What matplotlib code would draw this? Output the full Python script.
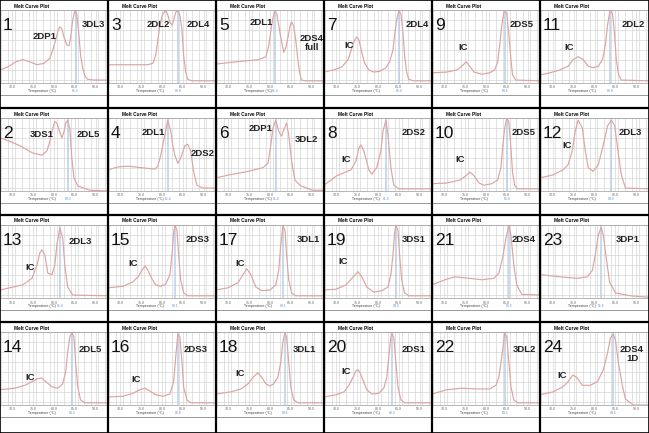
import numpy as np
import matplotlib.pyplot as plt
from matplotlib.lines import Line2D

plt.rcParams['font.family'] = ['Liberation Sans', 'DejaVu Sans']

# panel order in the grid (4 rows x 6 columns)
panel_ids = [1, 3, 5, 7, 9, 11,
             2, 4, 6, 8, 10, 12,
             13, 15, 17, 19, 21, 23,
             14, 16, 18, 20, 22, 24]

# melt curves: temperature (degC) and -dF/dT (scaled 0-100)
t1 = [67.0, 68.9, 70.8, 72.5, 74.2, 75.9, 77.6, 79.0, 79.7, 80.4, 80.9, 81.4, 81.9, 82.4, 83.1, 83.6, 84.0, 84.5, 85.0, 85.5, 86.0, 86.4, 86.9, 87.4, 88.1, 89.8, 93.0]
d1 = [18, 22, 29, 32, 29, 25, 27, 34, 45, 59, 70, 77, 74, 63, 52, 51, 62, 86, 99, 93, 66, 38, 21, 10, 5, 4, 4]
t3 = [67.0, 71.8, 76.6, 77.8, 78.5, 79.0, 79.5, 80.2, 80.9, 81.4, 81.9, 82.4, 82.8, 83.3, 83.8, 84.3, 84.8, 85.2, 85.7, 86.2, 87.2, 93.0]
d3 = [25, 25, 25, 27, 38, 59, 79, 95, 99, 93, 84, 79, 86, 97, 99, 93, 73, 38, 15, 5, 3, 3]
t5 = [67.0, 71.8, 77.3, 79.0, 79.7, 80.2, 80.7, 81.2, 81.6, 82.1, 82.6, 83.1, 83.3, 83.8, 84.3, 84.8, 85.2, 85.7, 86.2, 86.7, 87.2, 87.6, 88.6, 93.0]
d5 = [26, 29, 32, 36, 51, 71, 89, 99, 95, 79, 62, 48, 42, 48, 62, 77, 84, 78, 59, 32, 12, 4, 3, 3]
t7 = [67.0, 69.4, 71.3, 72.8, 73.7, 74.4, 74.9, 75.4, 76.1, 76.8, 77.8, 79.0, 80.4, 81.9, 82.8, 83.6, 84.0, 84.5, 85.0, 85.5, 86.0, 86.4, 86.9, 87.4, 88.6, 93.0]
d7 = [15, 18, 22, 32, 48, 59, 63, 59, 42, 27, 18, 15, 16, 21, 29, 45, 66, 86, 99, 95, 70, 38, 15, 5, 3, 3]
t9 = [67.0, 70.6, 73.0, 74.2, 75.2, 76.1, 77.1, 79.0, 80.9, 82.1, 82.8, 83.3, 83.8, 84.3, 84.5, 85.0, 85.5, 86.0, 86.4, 87.2, 93.0]
d9 = [14, 15, 18, 23, 29, 23, 15, 12, 14, 18, 29, 52, 79, 97, 100, 95, 66, 32, 11, 4, 3]
t11 = [67.0, 69.4, 71.8, 73.7, 74.9, 76.1, 77.3, 78.5, 79.7, 80.9, 81.9, 82.6, 83.1, 83.6, 83.8, 84.3, 84.8, 85.2, 85.7, 86.4, 93.0]
d11 = [11, 14, 18, 23, 32, 36, 32, 23, 21, 23, 32, 52, 79, 96, 100, 95, 66, 32, 12, 4, 3]

t2 = [67.0, 69.4, 71.8, 74.9, 77.1, 78.3, 79.0, 79.7, 80.2, 80.7, 81.2, 81.9, 82.4, 82.8, 83.3, 83.8, 84.3, 84.8, 85.7, 88.6, 93.0]
d2 = [73, 68, 62, 52, 49, 55, 68, 86, 95, 93, 84, 73, 81, 93, 97, 86, 45, 18, 7, 1, 0]
t4 = [67.0, 69.4, 71.8, 74.9, 78.3, 79.0, 79.7, 80.7, 81.4, 82.1, 82.6, 83.1, 83.8, 84.5, 85.5, 86.2, 86.9, 87.6, 88.4, 89.8, 93.0]
d4 = [29, 33, 34, 32, 30, 34, 49, 77, 97, 82, 62, 49, 38, 45, 62, 64, 55, 27, 8, 4, 4]
t6 = [67.0, 70.1, 74.9, 78.3, 79.5, 80.2, 80.7, 81.4, 82.1, 82.8, 83.3, 84.0, 84.5, 85.2, 86.0, 87.4, 90.3, 93.0]
d6 = [18, 22, 27, 32, 38, 63, 86, 97, 82, 75, 84, 93, 77, 41, 15, 7, 1, 1]
t8 = [67.0, 70.1, 73.5, 74.7, 75.4, 75.9, 76.6, 77.8, 78.5, 79.7, 80.7, 81.2, 81.9, 82.4, 83.1, 83.8, 85.0, 93.0]
d8 = [8, 21, 29, 41, 59, 63, 55, 29, 23, 32, 55, 82, 97, 77, 32, 8, 3, 3]
t10 = [67.0, 70.6, 73.7, 75.2, 76.1, 77.1, 78.3, 79.5, 81.4, 82.8, 83.6, 84.0, 84.5, 85.0, 85.5, 86.0, 86.4, 86.9, 87.6, 93.0]
d10 = [10, 11, 15, 21, 26, 21, 11, 8, 10, 15, 32, 59, 86, 100, 95, 59, 25, 8, 3, 3]
t12 = [67.0, 70.1, 72.5, 73.7, 74.7, 75.4, 76.1, 77.1, 77.8, 78.5, 79.7, 80.9, 82.1, 83.1, 84.0, 84.8, 85.5, 86.4, 87.4, 93.0]
d12 = [18, 22, 29, 36, 55, 82, 97, 86, 55, 32, 27, 36, 63, 89, 97, 90, 59, 22, 4, 3]

t13 = [67.0, 70.1, 72.5, 74.7, 75.9, 76.6, 77.1, 77.8, 78.5, 79.5, 80.2, 80.7, 81.4, 82.1, 82.6, 83.3, 84.5, 93.0]
d13 = [11, 15, 18, 27, 45, 62, 66, 59, 34, 32, 45, 73, 96, 82, 45, 15, 4, 3]
t15 = [67.0, 70.6, 73.0, 74.2, 75.2, 75.9, 76.6, 77.6, 78.5, 79.7, 80.9, 81.9, 82.4, 82.8, 83.1, 83.6, 84.0, 84.5, 85.2, 86.2, 93.0]
d15 = [14, 16, 22, 29, 38, 44, 38, 26, 18, 16, 19, 32, 59, 89, 100, 93, 59, 25, 7, 3, 3]
t17 = [67.0, 69.9, 72.3, 73.5, 74.4, 75.4, 76.6, 78.0, 80.0, 81.4, 82.1, 82.6, 83.1, 83.6, 84.0, 84.5, 85.2, 86.2, 93.0]
d17 = [11, 14, 21, 32, 40, 32, 15, 10, 11, 18, 38, 73, 99, 93, 59, 25, 7, 3, 3]
t19 = [67.0, 69.9, 72.3, 73.7, 75.2, 76.1, 77.3, 79.0, 80.9, 82.4, 83.1, 83.6, 84.0, 84.3, 84.8, 85.2, 85.7, 86.4, 87.4, 93.0]
d19 = [11, 12, 18, 27, 36, 29, 15, 8, 10, 15, 32, 59, 89, 100, 93, 59, 25, 7, 3, 3]
t21 = [67.0, 70.1, 72.5, 75.9, 79.0, 81.9, 83.1, 84.0, 84.8, 85.5, 86.0, 86.7, 87.4, 88.6, 93.0]
d21 = [18, 25, 29, 27, 25, 27, 34, 55, 82, 99, 86, 45, 18, 5, 4]
t23 = [67.0, 71.8, 75.9, 78.3, 79.5, 80.2, 80.9, 81.6, 82.1, 82.8, 83.6, 85.0, 88.6, 93.0]
d23 = [32, 29, 27, 29, 38, 59, 86, 97, 86, 55, 22, 7, 3, 1]

t14 = [67.0, 70.6, 73.0, 74.7, 76.1, 77.1, 78.0, 79.5, 80.9, 82.1, 82.8, 83.3, 83.8, 84.3, 84.8, 85.2, 85.7, 86.4, 87.4, 93.0]
d14 = [21, 23, 27, 32, 36, 37, 32, 25, 23, 29, 45, 73, 93, 99, 93, 59, 25, 7, 3, 3]
t16 = [67.0, 70.6, 73.0, 74.7, 75.9, 77.1, 78.5, 80.2, 81.9, 82.8, 83.3, 83.8, 84.3, 84.8, 85.2, 86.0, 86.9, 93.0]
d16 = [11, 12, 16, 21, 23, 19, 14, 12, 15, 32, 66, 97, 93, 59, 25, 7, 3, 3]
t18 = [67.0, 70.6, 73.0, 74.7, 75.9, 77.1, 78.0, 79.0, 80.0, 80.9, 81.9, 82.6, 83.1, 83.6, 84.0, 84.5, 85.0, 85.7, 86.7, 93.0]
d18 = [15, 18, 22, 29, 38, 44, 38, 29, 26, 29, 38, 59, 86, 99, 93, 59, 25, 7, 3, 3]
t20 = [67.0, 69.9, 71.8, 73.0, 74.0, 74.7, 75.2, 75.6, 76.4, 77.3, 78.5, 80.2, 81.4, 82.1, 82.6, 83.1, 83.3, 83.8, 84.3, 84.8, 85.5, 86.4, 93.0]
d20 = [11, 14, 18, 27, 38, 47, 48, 45, 34, 21, 15, 16, 23, 38, 66, 93, 99, 93, 59, 25, 7, 3, 3]
t22 = [67.0, 70.6, 74.2, 77.8, 80.9, 82.4, 83.1, 83.8, 84.3, 84.5, 85.0, 85.5, 86.0, 86.7, 87.6, 93.0]
d22 = [15, 21, 23, 22, 22, 27, 38, 66, 89, 99, 93, 59, 25, 7, 3, 3]
t24 = [67.0, 70.1, 72.5, 73.7, 74.7, 74.9, 75.9, 77.1, 79.0, 80.7, 82.1, 83.1, 83.8, 84.5, 85.0, 85.7, 86.7, 87.4, 89.3, 93.0]
d24 = [14, 18, 25, 32, 40, 41, 37, 27, 27, 32, 48, 71, 92, 97, 89, 58, 25, 8, 0, 0]

curves = {1: (t1, d1), 3: (t3, d3), 5: (t5, d5), 7: (t7, d7), 9: (t9, d9), 11: (t11, d11),
          2: (t2, d2), 4: (t4, d4), 6: (t6, d6), 8: (t8, d8), 10: (t10, d10), 12: (t12, d12),
          13: (t13, d13), 15: (t15, d15), 17: (t17, d17), 19: (t19, d19), 21: (t21, d21), 23: (t23, d23),
          14: (t14, d14), 16: (t16, d16), 18: (t18, d18), 20: (t20, d20), 22: (t22, d22), 24: (t24, d24)}

# melting temperature marker (blue line)
tm = {1: 85.2, 3: 83.8, 5: 81.2, 7: 85.0, 9: 84.5, 11: 83.8,
      2: 83.3, 4: 81.4, 6: 81.4, 8: 81.9, 10: 85.0, 12: 84.0,
      13: 81.4, 15: 83.1, 17: 83.1, 19: 84.3, 21: 85.5, 23: 81.6,
      14: 84.3, 16: 83.8, 18: 83.6, 20: 83.3, 22: 84.5, 24: 84.5}

# peak labels
labels = {1: ['2DP1', '3DL3'], 3: ['2DL2', '2DL4'], 5: ['2DL1', '2DS4\nfull'],
          7: ['IC', '2DL4'], 9: ['IC', '2DS5'], 11: ['IC', '2DL2'],
          2: ['3DS1', '2DL5'], 4: ['2DL1', '2DS2'], 6: ['2DP1', '3DL2'],
          8: ['IC', '2DS2'], 10: ['IC', '2DS5'], 12: ['IC', '2DL3'],
          13: ['IC', '2DL3'], 15: ['IC', '2DS3'], 17: ['IC', '3DL1'],
          19: ['IC', '3DS1'], 21: ['2DS4'], 23: ['3DP1'],
          14: ['IC', '2DL5'], 16: ['IC', '2DS3'], 18: ['IC', '3DL1'],
          20: ['IC', '2DS1'], 22: ['3DL2'], 24: ['IC', '2DS4\n1D']}

# label positions inside each plot (pixels from cell left / cell top)
label_pos = {1: [(45, 37), (93, 25)], 3: [(50, 25), (90, 25)], 5: [(45, 23), (96, 43)],
             7: [(25, 46), (93, 25)], 9: [(31, 48), (90, 25)], 11: [(29, 47), (93, 25)],
             2: [(42, 27), (88, 27)], 4: [(45, 25), (95, 45)], 6: [(45, 21), (90, 32)],
             8: [(22, 52), (90, 25)], 10: [(28, 52), (92, 25)], 12: [(27, 38), (90, 25)],
             13: [(30, 52), (80, 27)], 15: [(25, 49), (90, 25)], 17: [(24, 48), (92, 25)],
             19: [(19, 47), (90, 25)], 21: [(92, 25)], 23: [(88, 25)],
             14: [(30, 55), (90, 27)], 16: [(28, 57), (88, 27)], 18: [(24, 51), (88, 27)],
             20: [(22, 49), (90, 27)], 22: [(92, 27)], 24: [(22, 54), (92, 32)]}

major_ticks = [70, 75, 80, 85, 90]

W, H = 649, 433
col_left = [0, 108, 216, 324, 432, 540, 649]
row_top = [0, 108, 215, 322, 433]

fig = plt.figure(figsize=(W / 100, H / 100), dpi=100)
fig.patch.set_facecolor('white')

for k, pid in enumerate(panel_ids):
    r, c = divmod(k, 6)
    x0, x1 = col_left[c], col_left[c + 1]
    y0 = row_top[r]
    top, bot = y0 + 10, y0 + 83
    ax = fig.add_axes([x0 / W, 1 - bot / H, (x1 - x0) / W, (bot - top) / H])
    t, d = curves[pid]
    ax.plot(t, d, color='#dca4a2', lw=0.85, zorder=3, solid_joinstyle='round')
    ax.axvline(tm[pid], color='#b9d0ea', lw=1.1, zorder=2)
    ax.set_xlim(67, 93)
    ax.set_ylim(0, 100)
    ax.set_xticks(major_ticks)
    ax.set_xticklabels([f'{v:.1f}' for v in major_ticks])
    ax.set_xticks(np.arange(67 + 1 / 3, 93, 5 / 3), minor=True)
    ax.set_yticks(np.arange(4.1, 100, 13.7))
    ax.set_yticklabels([])
    ax.grid(True, which='both', color='#d2d2d2', lw=0.45)
    ax.set_axisbelow(True)
    ax.tick_params(axis='both', which='both', length=0, labelsize=2.6,
                   labelcolor='#666666', pad=1.8)
    for s in ['left', 'right']:
        ax.spines[s].set_visible(False)
    for s in ['top', 'bottom']:
        ax.spines[s].set_color('#9a9a9a')
        ax.spines[s].set_linewidth(0.5)

    # panel number and peak names
    ax.text(3 / (x1 - x0), (83 - 26) / 73, str(pid), transform=ax.transAxes,
            fontsize=12.5, ha='left', va='center', color='#111111')
    for lab, (px, py) in zip(labels[pid], label_pos[pid]):
        ax.text(px / (x1 - x0), (83 - py) / 73, lab, transform=ax.transAxes,
                fontsize=6.8, fontweight='bold', ha='center', va='center',
                color='#222222', linespacing=1.05)

    # header / footer of each instrument plot
    fig.text((x0 + 32) / W, 1 - (y0 + 6) / H, 'Melt Curve Plot', fontsize=3.4,
             fontweight='bold', ha='center', va='center')
    fig.text((x0 + 42) / W, 1 - (y0 + 91) / H, 'Temperature (\u00b0C)', fontsize=2.6,
             ha='center', va='center', color='#444444')
    bx = x0 + (tm[pid] - 67) / 26 * (x1 - x0)
    fig.text(bx / W, 1 - (y0 + 91) / H, f'{tm[pid]:.1f}', fontsize=2.4,
             ha='center', va='center', color='#5b8fd0')
    fig.add_artist(Line2D([x0 / W, x1 / W], [1 - (y0 + 95) / H] * 2,
                          color='#8a8a8a', lw=0.6))

# black cell borders
for x in col_left[1:-1]:
    fig.add_artist(Line2D([x / W, x / W], [0, 1], color='black', lw=1.6))
for y in row_top[1:-1]:
    fig.add_artist(Line2D([0, 1], [1 - y / H, 1 - y / H], color='black', lw=1.6))
fig.add_artist(Line2D([0, 1, 1, 0, 0], [0, 0, 1, 1, 0], color='black', lw=1.2))

fig.savefig('out.png', dpi=100)
